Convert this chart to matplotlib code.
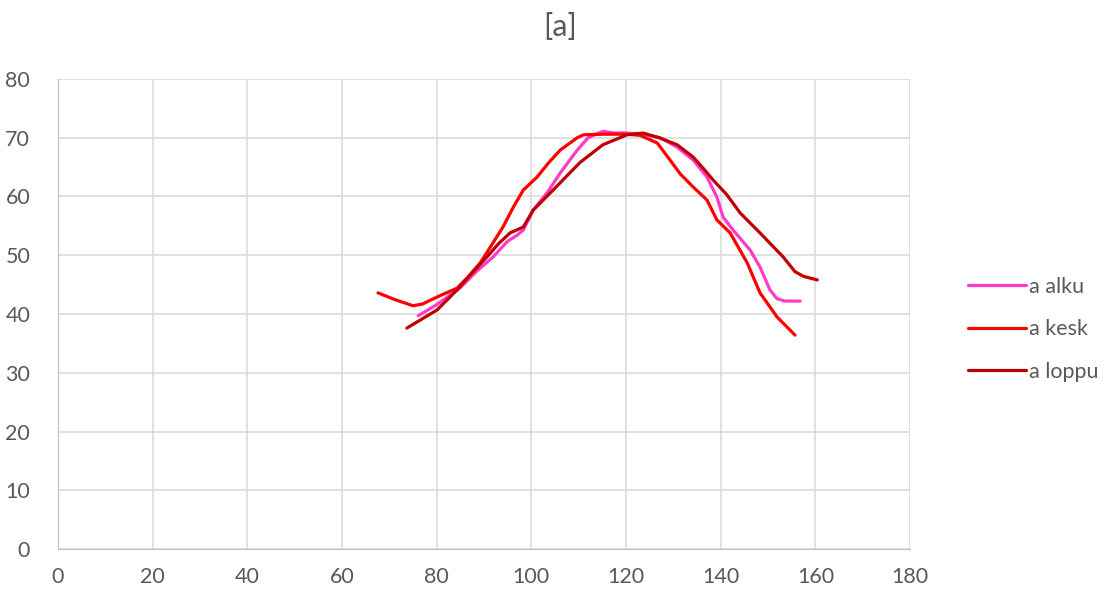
import matplotlib
matplotlib.use("Agg")
import matplotlib.pyplot as plt

plt.rcParams["font.family"] = ["Lato", "DejaVu Sans"]

# data
alku_x = [76.1, 80.0, 84.9, 88.5, 91.9, 95.0, 97.0, 98.3, 100.4, 103.3, 106.1, 109.7,
          112.0, 115.1, 117.5, 120.2, 123.6, 127.2, 130.8, 134.2, 137.1, 139.2, 140.5,
          142.6, 146.2, 148.3, 150.4, 151.9, 153.5, 156.8]
alku_y = [39.7, 41.6, 44.4, 47.3, 49.7, 52.4, 53.4, 54.3, 57.7, 60.6, 64.0, 67.9,
          70.0, 71.1, 70.8, 70.8, 70.6, 70.0, 68.4, 66.2, 63.3, 59.9, 56.5,
          54.3, 50.9, 48.0, 44.1, 42.6, 42.2, 42.2]

kesk_x = [67.6, 71.0, 75.0, 77.0, 80.1, 84.3, 86.5, 89.2, 91.5, 94.0, 96.2, 98.3, 101.2,
          103.5, 106.1, 109.7, 111.0, 115.0, 120.2, 123.0, 126.6, 129.3, 131.5, 134.2,
          137.1, 139.2, 142.0, 145.6, 148.3, 151.9, 155.7]
kesk_y = [43.6, 42.5, 41.4, 41.7, 42.9, 44.4, 46.2, 48.7, 51.6, 54.8, 58.2, 61.1, 63.3,
          65.6, 67.9, 70.0, 70.5, 70.6, 70.6, 70.4, 69.1, 66.2, 63.8, 61.6,
          59.4, 56.0, 53.8, 48.7, 43.6, 39.5, 36.4]

loppu_x = [73.7, 77.0, 80.1, 84.3, 87.5, 90.6, 93.0, 95.5, 98.3, 100.4, 104.6, 107.5,
           110.3, 115.1, 120.2, 123.6, 127.0, 130.8, 134.2, 136.3, 138.4, 141.3, 144.1,
           148.3, 153.2, 155.7, 157.5, 160.4]
loppu_y = [37.6, 39.2, 40.7, 44.1, 47.0, 49.7, 51.9, 53.8, 54.8, 57.7, 61.1, 63.5,
           65.8, 68.8, 70.5, 70.8, 70.0, 68.8, 66.7, 64.8, 62.8, 60.3, 57.2,
           53.8, 49.7, 47.2, 46.4, 45.8]

names = ["a alku", "a kesk", "a loppu"]
colors = ["#FF3CC8", "#FF0000", "#C00000"]

fig = plt.figure(figsize=(11.09, 5.92), dpi=100)
ax = fig.add_axes([0.0523, 0.0726, 0.7683, 0.794])

series = [(alku_x, alku_y), (kesk_x, kesk_y), (loppu_x, loppu_y)]
for (xs, ys), name, col in zip(series, names, colors):
    ax.plot(xs, ys, color=col, lw=2.3, label=name,
            solid_joinstyle="round", solid_capstyle="round")

ax.set_xlim(0, 180)
ax.set_ylim(0, 80)
ax.set_xticks(range(0, 181, 20))
ax.set_yticks(range(0, 81, 10))
ax.grid(color="#D9D9D9", lw=1.1)
ax.set_axisbelow(True)
for s in ["top", "right"]:
    ax.spines[s].set_visible(False)
ax.spines["left"].set_color("#BFBFBF")
ax.spines["bottom"].set_color("#BFBFBF")
ax.tick_params(length=0, labelsize=15.5, labelcolor="#595959")
ax.tick_params(axis="x", pad=13)
ax.tick_params(axis="y", pad=20)

fig.text(0.505, 0.955, "[a]", ha="center", va="center", fontsize=22, color="#595959")

fig.legend(loc="center left", bbox_to_anchor=(0.855, 0.444), frameon=False,
           fontsize=15.5, labelcolor="#595959", handlelength=2.7, handletextpad=0.15,
           labelspacing=1.05)

fig.savefig("out.png", dpi=100)
